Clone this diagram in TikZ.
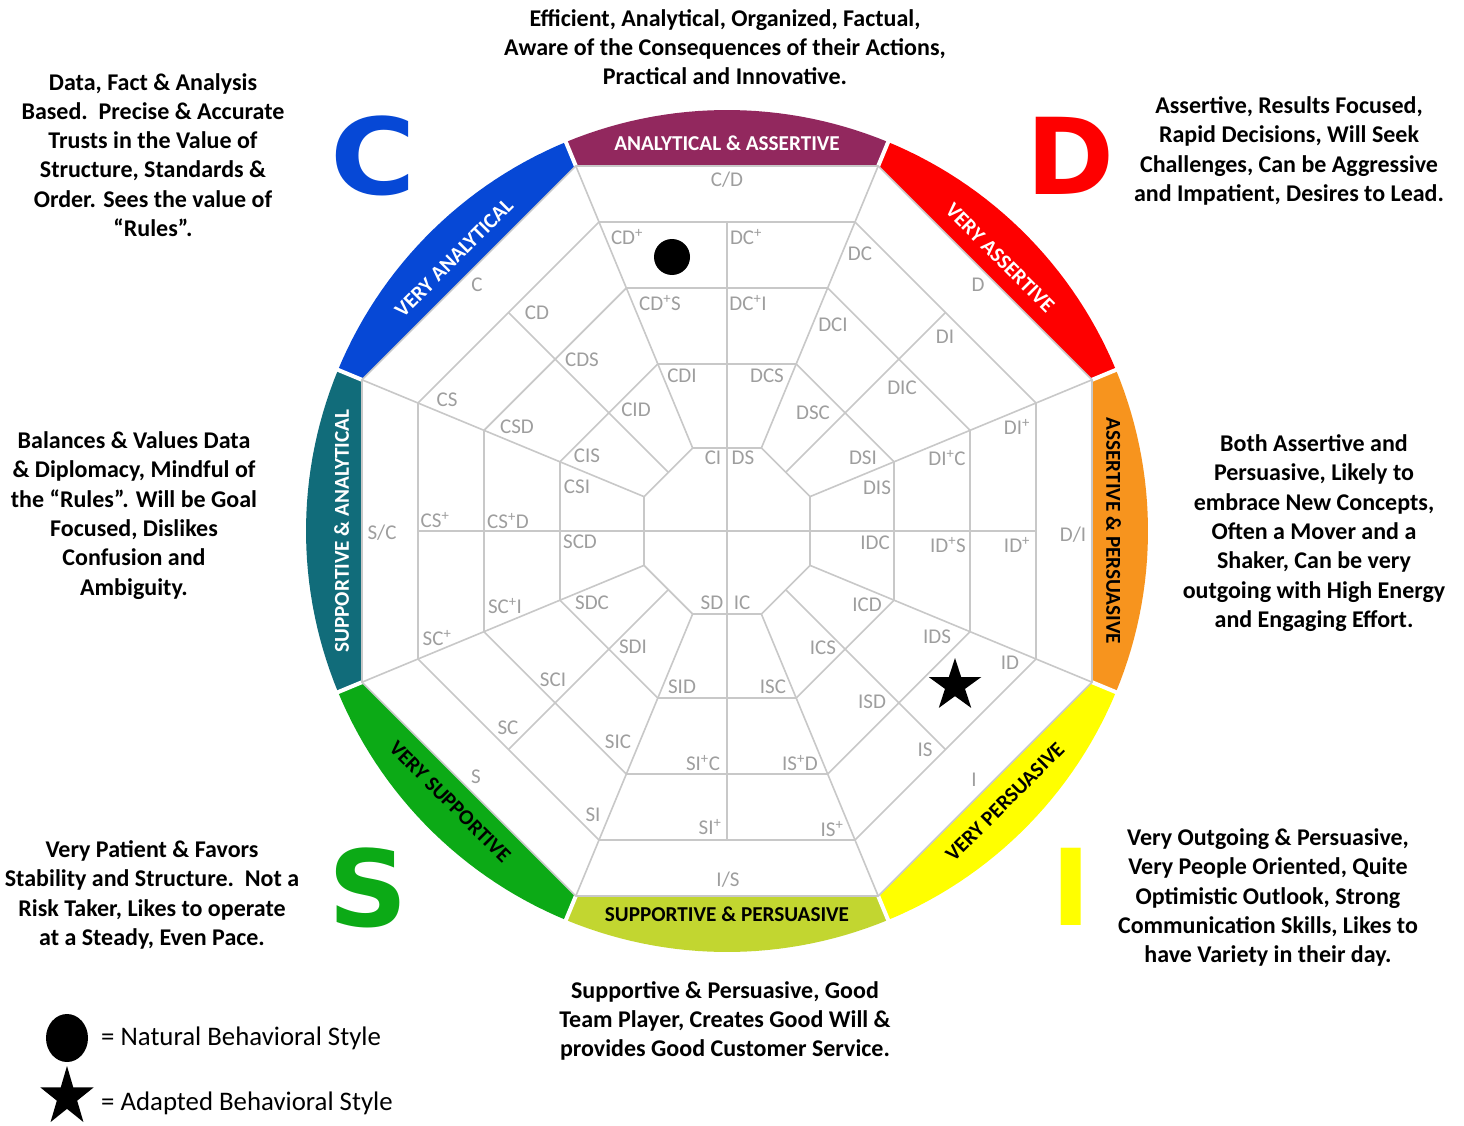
\documentclass[tikz,border=0pt]{standalone}
\usepackage{fontspec}
\setmainfont{Carlito}
\newfontfamily\bigfont{DejaVu Sans}
\usetikzlibrary{shapes.geometric}
\definecolor{cPurple}{RGB}{146,40,94}
\definecolor{cRed}{RGB}{254,0,0}
\definecolor{cOrange}{RGB}{247,148,30}
\definecolor{cYellow}{RGB}{255,255,0}
\definecolor{cYG}{RGB}{194,214,48}
\definecolor{cGreen}{RGB}{12,170,22}
\definecolor{cTeal}{RGB}{17,108,122}
\definecolor{cBlue}{RGB}{6,72,214}
\definecolor{gridgray}{RGB}{200,200,200}
\definecolor{labgray}{RGB}{158,158,158}
\newcommand\pl{\textsuperscript{+}}
\begin{document}
\begin{tikzpicture}[x=1pt,y=-1pt,
  gridline/.style={draw=gridgray, line width=1.6pt},
  lab/.style={text=labgray, font=\fontsize{21}{21}\selectfont, inner sep=0pt, text height=13.5pt, text depth=0pt},
  bandtxt/.style={font=\bfseries\fontsize{21.2}{21.2}\selectfont, inner sep=0pt, text height=13.5pt, text depth=0pt},
  desc/.style={font=\bfseries\fontsize{24}{29.3}\selectfont, align=center, inner sep=0pt},
  bigl/.style={font=\bigfont\bfseries\fontsize{106}{106}\selectfont, inner sep=0pt, text height=77pt, text depth=0pt},
  legtxt/.style={font=\fontsize{26.8}{26.8}\selectfont, inner sep=0pt, anchor=base west}]
\fill[white] (0,0) rectangle (1464,1126);
\useasboundingbox (0,0) rectangle (1464,1126);
\coordinate (O) at (727,531);

% coloured bands
\foreach \ang/\col in {-90/cPurple,-45/cRed,0/cOrange,45/cYellow,90/cYG,135/cGreen,180/cTeal,225/cBlue}{
  \pgfmathsetmacro\sa{\ang-22.5}
  \pgfmathsetmacro\ea{\ang+22.5}
  \fill[\col, shift={(O)}] (\sa:395.07) -- (\ea:395.07) -- plot[domain=\ea:\sa, samples=30] (\x:421) -- cycle;
}
\foreach \ang in {22.5,67.5,112.5,157.5,202.5,247.5,292.5,337.5}
  \draw[white, line width=4pt, shift={(O)}] (\ang:394) -- (\ang:430);

% grid
\begin{scope}[shift={(O)}]
\foreach \a in {83,167,243,309,365}{
  \pgfmathsetmacro\R{\a*1.08239}
  \draw[gridline] (22.5:\R) -- (67.5:\R) -- (112.5:\R) -- (157.5:\R) -- (202.5:\R) -- (247.5:\R) -- (292.5:\R) -- (337.5:\R) -- cycle;
}
\foreach \ang in {22.5,67.5,112.5,157.5,202.5,247.5,292.5,337.5}
  \draw[gridline] (\ang:89.84) -- (\ang:395.07);
\draw[gridline] (-309,0) -- (309,0);
\draw[gridline] (0,-309) -- (0,309);
\foreach \ang in {45,135,225,315}
  \draw[gridline] (\ang:83) -- (\ang:309);
\end{scope}

% band texts
\node[bandtxt, text=white] (bTop) at (727,144) {ANALYTICAL \& ASSERTIVE};
\node[bandtxt, text=white, rotate=45] (bVA) at (454,258) {VERY ANALYTICAL};
\node[bandtxt, text=white, rotate=-45] (bVAs) at (1000,258) {VERY ASSERTIVE};
\node[bandtxt, text=black, rotate=-90] (bAP) at (1113,531) {ASSERTIVE \& PERSUASIVE};
\node[bandtxt, text=black, rotate=45] (bVP) at (1005,802) {VERY PERSUASIVE};
\node[bandtxt, text=black] (bSP) at (727,915) {SUPPORTIVE \& PERSUASIVE};
\node[bandtxt, text=black, rotate=-45] (bVS) at (450,802) {VERY SUPPORTIVE};
\node[bandtxt, text=white, rotate=90] (bSA) at (342,531) {SUPPORTIVE \& ANALYTICAL};

% grid labels: top
\node[lab] (lCslD) at (727,180) {C/D};
\node[lab] (lCDp) at (627,238) {CD\pl};
\node[lab] (lDCp) at (746,238) {DC\pl};
\node[lab] (lCDpS) at (660,304) {CD\pl S};
\node[lab] (lDCpI) at (748,304) {DC\pl I};
\node[lab] (lCDI) at (682,376) {CDI};
\node[lab] (lDCS) at (767,376) {DCS};
\node[lab] (lCI) at (713,458) {CI};
\node[lab] (lDS) at (743,458) {DS};
% upper right
\node[lab] (lDC) at (860,254) {DC};
\node[lab] (lD) at (978,285) {D};
\node[lab] (lDCI) at (833,325) {DCI};
\node[lab] (lDI) at (945,337) {DI};
\node[lab] (lDIC) at (902,388) {DIC};
\node[lab] (lDSC) at (813,413) {DSC};
\node[lab] (lDSI) at (863,458) {DSI};
\node[lab] (lDIS) at (877,488) {DIS};
% right
\node[lab] (lDslI) at (1073,535) {D/I};
\node[lab] (lDIp) at (1017,428) {DI\pl};
\node[lab] (lDIpC) at (947,459) {DI\pl C};
\node[lab] (lIDC) at (875,543) {IDC};
\node[lab] (lIDpS) at (948,546) {ID\pl S};
\node[lab] (lIDp) at (1017,546) {ID\pl};
% lower right
\node[lab] (lID) at (1010,663) {ID};
\node[lab] (lIDS) at (937,637) {IDS};
\node[lab] (lICD) at (867,605) {ICD};
\node[lab] (lICS) at (823,648) {ICS};
\node[lab] (lISD) at (872,702) {ISD};
\node[lab] (lIS) at (925,750) {IS};
\node[lab] (lI) at (974,780) {I};
% bottom
\node[lab] (lSD) at (712,603) {SD};
\node[lab] (lIC) at (742,603) {IC};
\node[lab] (lSID) at (682,687) {SID};
\node[lab] (lISC) at (773,687) {ISC};
\node[lab] (lSIpC) at (703,764) {SI\pl C};
\node[lab] (lISpD) at (800,764) {IS\pl D};
\node[lab] (lSIp) at (710,828) {SI\pl};
\node[lab] (lISp) at (832,830) {IS\pl};
\node[lab] (lIslS) at (728,880) {I/S};
% lower left
\node[lab] (lSI) at (593,815) {SI};
\node[lab] (lS) at (476,777) {S};
\node[lab] (lSC) at (508,728) {SC};
\node[lab] (lSIC) at (618,742) {SIC};
\node[lab] (lSCI) at (553,680) {SCI};
\node[lab] (lSDI) at (633,647) {SDI};
\node[lab] (lSDC) at (592,603) {SDC};
% left
\node[lab] (lSslC) at (382,533) {S/C};
\node[lab] (lCSp) at (435,521) {CS\pl};
\node[lab] (lCSpD) at (508,522) {CS\pl D};
\node[lab] (lCSI) at (577,487) {CSI};
\node[lab] (lSCD) at (580,542) {SCD};
\node[lab] (lSCpI) at (505,607) {SC\pl I};
\node[lab] (lSCp) at (437,639) {SC\pl};
% upper left
\node[lab] (lC) at (477,285) {C};
\node[lab] (lCD) at (537,313) {CD};
\node[lab] (lCS) at (447,400) {CS};
\node[lab] (lCDS) at (582,360) {CDS};
\node[lab] (lCSD) at (517,427) {CSD};
\node[lab] (lCID) at (636,410) {CID};
\node[lab] (lCIS) at (587,456) {CIS};

% markers
\node[circle, fill=black, minimum size=36pt, inner sep=0pt] (natdot) at (672,257) {};
\fill[shift={(955,685.6)}, scale=27.6] (-90:1) -- (-54:0.382) -- (-18:1) -- (18:0.382) -- (54:1) -- (90:0.382) -- (126:1) -- (162:0.382) -- (198:1) -- (234:0.382) -- cycle;

% big letters
\node[bigl, text=cBlue, xscale=1.1] (bigC) at (373.5,156) {C};
\node[bigl, text=cRed] (bigD) at (1070.5,156.5) {D};
\node[bigl, text=cGreen, xscale=1.04] (bigS) at (368.5,888) {S};
\node[bigl, text=cYellow] (bigI) at (1071.5,887) {I};

% descriptions
\node[desc] (dTop) at (725,47) {Efficient, Analytical, Organized, Factual,\\Aware of the Consequences of their Actions,\\Practical and Innovative.};
\node[desc] (dTL) at (153,155) {Data, Fact \& Analysis\\Based.\ \ Precise \& Accurate\\Trusts in the Value of\\Structure, Standards \&\\Order. Sees the value of\\“Rules”.};
\node[desc] (dTR) at (1289,151) {Assertive, Results Focused,\\Rapid Decisions, Will Seek\\Challenges, Can be Aggressive\\and Impatient, Desires to Lead.};
\node[desc] (dR) at (1314,533) {Both Assertive and\\Persuasive, Likely to\\embrace New Concepts,\\Often a Mover and a\\Shaker, Can be very\\outgoing with High Energy\\and Engaging Effort.};
\node[desc] (dL) at (134,515.5) {Balances \& Values Data\\\& Diplomacy, Mindful of\\the “Rules”. Will be Goal\\Focused, Dislikes\\Confusion and\\Ambiguity.};
\node[desc] (dBL) at (152,895) {Very Patient \& Favors\\Stability and Structure.\ \ Not a\\Risk Taker, Likes to operate\\at a Steady, Even Pace.};
\node[desc] (dBR) at (1268,897.5) {Very Outgoing \& Persuasive,\\Very People Oriented, Quite\\Optimistic Outlook, Strong\\Communication Skills, Likes to\\have Variety in their day.};
\node[desc] (dB) at (725,1021) {Supportive \& Persuasive, Good\\Team Player, Creates Good Will \&\\provides Good Customer Service.};

% legend
\node[ellipse, fill=black, minimum width=42pt, minimum height=48pt, inner sep=0pt] (legdot) at (67,1038) {};
\fill[shift={(67,1097)}, xscale=28, yscale=31] (-90:1) -- (-54:0.382) -- (-18:1) -- (18:0.382) -- (54:1) -- (90:0.382) -- (126:1) -- (162:0.382) -- (198:1) -- (234:0.382) -- cycle;
\node[legtxt] (legN) at (101,1045) {= Natural Behavioral Style};
\node[legtxt] (legA) at (101,1110) {= Adapted Behavioral Style};
\end{tikzpicture}
\end{document}
